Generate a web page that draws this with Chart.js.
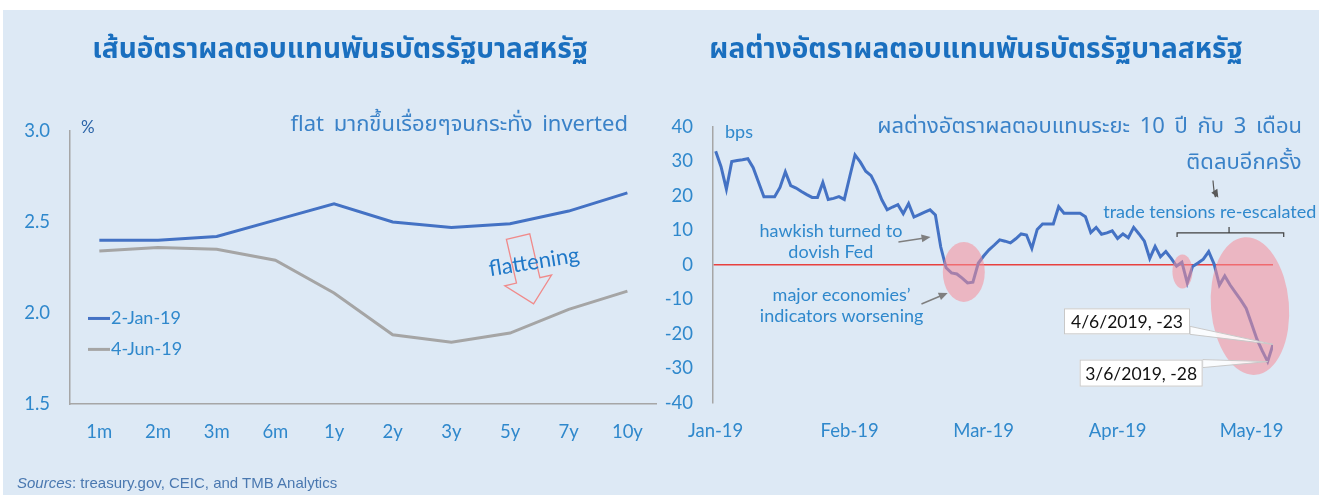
<!DOCTYPE html>
<html>
<head>
<meta charset="utf-8">
<script src="https://cdn.jsdelivr.net/npm/chart.js@4.4.1/dist/chart.umd.min.js"></script>
<style>
html, body { margin: 0; padding: 0; background: #fff; }
#page { position: relative; width: 1319px; height: 495px; overflow: hidden; }
#panel { position: absolute; left: 3px; top: 10px; width: 1316px; height: 485px; background: #dde9f5; }
canvas { position: absolute; top: 0; }
#c1 { left: 0; }
#c2 { left: 660px; }
.t { position: absolute; white-space: nowrap; line-height: 1; font-family: "Noto Sans Thai", "Noto Sans", Lato, sans-serif; }
.c { transform: translate(-50%, -50%); }
.r { transform: translate(-100%, -50%); }
.title { font-size: 28px; font-weight: bold; color: #1a6fbf; }
.sub { font-size: 22px; color: #3a82c8; }
.wide { word-spacing: 4px; }
.src { font-family: "Liberation Sans", Arial, sans-serif; font-size: 15px; color: #4a78b0; transform: translateY(-50%); }
</style>
</head>
<body>
<div id="page">
  <div id="panel"></div>
  <canvas id="c1" width="660" height="495"></canvas>
  <canvas id="c2" width="659" height="495"></canvas>
  <div class="t c title" style="left:340px;top:50px">เส้นอัตราผลตอบแทนพันธบัตรรัฐบาลสหรัฐ</div>
  <div class="t c title" style="left:976px;top:50px">ผลต่างอัตราผลตอบแทนพันธบัตรรัฐบาลสหรัฐ</div>
  <div class="t r sub wide" style="left:628px;top:125px">flat มากขึ้นเรื่อยๆจนกระทั่ง inverted</div>
  <div class="t r sub wide" style="left:1302px;top:127px">ผลต่างอัตราผลตอบแทนระยะ 10 ปี กับ 3 เดือน</div>
  <div class="t c sub" style="left:1244px;top:163px">ติดลบอีกครั้ง</div>
  <div class="t src" style="left:17px;top:482px"><i>Sources</i>: treasury.gov, CEIC, and TMB Analytics</div>
</div>
<script>
// left chart: US treasury yield curve
var tenors = ['1m', '2m', '3m', '6m', '1y', '2y', '3y', '5y', '7y', '10y'];
var yieldJan2 = [2.40, 2.40, 2.42, 2.51, 2.60, 2.50, 2.47, 2.49, 2.56, 2.66];
var yieldJun4 = [2.34, 2.36, 2.35, 2.29, 2.11, 1.88, 1.84, 1.89, 2.02, 2.12];
var curveNames = ['2-Jan-19', '4-Jun-19'];

// right chart: 10y - 3m spread, bps (2 Jan 2019 - 4 Jun 2019)
var spreadBps = [
  33, 28.5, 22, 30, 30.3, 30.5, 30.8, 28.2, 24, 19.8,
  19.8, 19.8, 22.5, 27, 23, 22.3, 21.3, 20.4, 19.6, 19.6,
  23.9, 19, 19.3, 19.8, 19, 25.5, 31.9, 29.8, 27.2, 25.9,
  22.8, 18.9, 16, 16.8, 17.5, 14.9, 17.8, 13.9, 14.6, 15.3,
  16, 14.5, 5.2, -0.8, -2.3, -2.6, -3.8, -5.2, -5.0, 0.5,
  2.6, 4.4, 5.8, 7.3, 6.9, 6.4, 7.6, 9, 8.7, 4.8,
  10.3, 11.9, 11.9, 11.9, 16.9, 15, 15, 15, 15, 14,
  9.4, 10.9, 8.9, 9.3, 9.9, 7.7, 9, 7.9, 10.9, 9.0,
  6.9, 1.9, 5.4, 2.4, 3.9, 1.9, -0.3, 0.8, -5.2, -0.4,
  0.6, 1.7, 3.9, 0.3, -5.8, -3.2, -5.8, -8.0, -10.2, -12.6,
  -17, -21.5, -24.9, -28, -23
];
var monthTicks = [0, 25, 50, 75, 100];
var monthLabels = ['Jan-19', 'Feb-19', 'Mar-19', 'Apr-19', 'May-19'];
var calloutIdx = [104, 103];
var calloutText = ['4/6/2019, -23', '3/6/2019, -28'];

var tickColor = '#2f88cc';
var axisGray = '#a6a6a6';
var labelFont = { family: 'Lato, sans-serif', size: 18.5 };
var noteFont = '18px Lato, sans-serif';

function arrow(ctx, x1, y1, x2, y2, color) {
  var a = Math.atan2(y2 - y1, x2 - x1);
  ctx.strokeStyle = color; ctx.fillStyle = color; ctx.lineWidth = 1.5;
  ctx.beginPath(); ctx.moveTo(x1, y1); ctx.lineTo(x2 - 6 * Math.cos(a), y2 - 6 * Math.sin(a)); ctx.stroke();
  ctx.beginPath();
  ctx.moveTo(x2, y2);
  ctx.lineTo(x2 - 9 * Math.cos(a) + 4 * Math.sin(a), y2 - 9 * Math.sin(a) - 4 * Math.cos(a));
  ctx.lineTo(x2 - 9 * Math.cos(a) - 4 * Math.sin(a), y2 - 9 * Math.sin(a) + 4 * Math.cos(a));
  ctx.closePath(); ctx.fill();
}

var leftDecor = {
  id: 'leftDecor',
  afterDatasetsDraw: function(chart) {
    var ctx = chart.ctx, a = chart.chartArea, x = chart.scales.x, y = chart.scales.y;
    ctx.save();
    // unit
    ctx.fillStyle = '#2b64a8';
    ctx.font = '17px Lato, sans-serif';
    ctx.textBaseline = 'middle';
    ctx.fillText('%', a.left + 11, a.top - 3);
    // legend
    var legendVals = [1.97, 1.80];
    chart.data.datasets.forEach(function(ds, i) {
      var ly = y.getPixelForValue(legendVals[i]);
      ctx.strokeStyle = ds.borderColor; ctx.lineWidth = 3;
      ctx.beginPath(); ctx.moveTo(a.left + 18, ly); ctx.lineTo(a.left + 40, ly); ctx.stroke();
      ctx.fillStyle = tickColor;
      ctx.font = noteFont;
      ctx.textAlign = 'left';
      ctx.fillText(ds.label, a.left + 41, ly);
    });
    // flattening arrow
    var ax = x.getPixelForValue(7) + 8, ay = y.getPixelForValue(2.42);
    ctx.save();
    ctx.translate(ax, ay);
    ctx.rotate(-13 * Math.PI / 180);
    ctx.strokeStyle = '#f08a8a'; ctx.lineWidth = 1.3;
    ctx.beginPath();
    ctx.moveTo(-12, 0); ctx.lineTo(12, 0); ctx.lineTo(12, 45); ctx.lineTo(24, 45);
    ctx.lineTo(0, 69); ctx.lineTo(-24, 45); ctx.lineTo(-12, 45); ctx.closePath();
    ctx.stroke();
    ctx.restore();
    ctx.save();
    ctx.translate(x.getPixelForValue(7) + 24, y.getPixelForValue(2.28));
    ctx.rotate(-9 * Math.PI / 180);
    ctx.fillStyle = '#1f78c8';
    ctx.font = '22px Lato, sans-serif';
    ctx.textAlign = 'center';
    ctx.textBaseline = 'middle';
    ctx.fillText('flattening', 0, 0);
    ctx.restore();
    ctx.restore();
  }
};

new Chart(document.getElementById('c1'), {
  type: 'line',
  data: {
    labels: tenors,
    datasets: [
      { label: curveNames[0], data: yieldJan2, borderColor: '#4472c4', borderWidth: 3, pointRadius: 0, tension: 0 },
      { label: curveNames[1], data: yieldJun4, borderColor: '#a5a5a5', borderWidth: 3, pointRadius: 0, tension: 0 }
    ]
  },
  options: {
    responsive: false, animation: false, devicePixelRatio: 1,
    layout: { padding: { top: 131, right: 2, left: 0, bottom: 0 } },
    plugins: { legend: { display: false }, tooltip: { enabled: false } },
    scales: {
      x: {
        offset: true,
        grid: { display: false, drawTicks: false },
        border: { display: true, color: axisGray, width: 1.5 },
        ticks: { color: tickColor, font: labelFont, padding: 17, maxRotation: 0 },
        afterFit: function(s) { s.height = 91; }
      },
      y: {
        min: 1.5, max: 3.0,
        grid: { display: false, drawTicks: false },
        border: { display: true, color: axisGray, width: 1.5 },
        ticks: { stepSize: 0.5, color: tickColor, font: labelFont, padding: 20,
          callback: function(v) { return v.toFixed(1); } },
        afterFit: function(s) { s.width = 70; }
      }
    }
  },
  plugins: [leftDecor]
});

var rightDecor = {
  id: 'rightDecor',
  afterDatasetsDraw: function(chart) {
    var ctx = chart.ctx, a = chart.chartArea, x = chart.scales.x, y = chart.scales.y;
    ctx.save();
    ctx.fillStyle = tickColor;
    ctx.font = noteFont;
    ctx.textBaseline = 'middle';
    ctx.fillText('bps', a.left + 12, a.top + 5);

    // highlighted inversion zones
    ctx.fillStyle = 'rgba(245, 140, 152, 0.55)';
    [[46.3, -2, 21, 30, 0], [87.1, -1.9, 10, 17, 0], [99.7, -11.9, 39, 69, -0.08]].forEach(function(e) {
      ctx.beginPath();
      ctx.ellipse(x.getPixelForValue(e[0]), y.getPixelForValue(e[1]), e[2], e[3], e[4], 0, Math.PI * 2);
      ctx.fill();
    });

    // texts
    ctx.fillStyle = tickColor;
    ctx.textAlign = 'center';
    ctx.font = noteFont;
    var tx = x.getPixelForValue(21.5);
    ctx.fillText('hawkish turned to', tx, y.getPixelForValue(9.9));
    ctx.fillText('dovish Fed', tx, y.getPixelForValue(3.8));
    var mx = x.getPixelForValue(23.5);
    ctx.fillText('major economies\u2019', mx, y.getPixelForValue(-8.7));
    ctx.fillText('indicators worsening', mx, y.getPixelForValue(-14.8));
    ctx.fillText('trade tensions re-escalated', x.getPixelForValue(92.2), y.getPixelForValue(15.4));

    // arrows
    arrow(ctx, x.getPixelForValue(34.1), y.getPixelForValue(6.7), x.getPixelForValue(40.1), y.getPixelForValue(8.1), '#7f7f7f');
    arrow(ctx, x.getPixelForValue(38.4), y.getPixelForValue(-11.3), x.getPixelForValue(43.3), y.getPixelForValue(-8.1), '#7f7f7f');

    // curved arrow
    ctx.strokeStyle = '#595959'; ctx.fillStyle = '#595959'; ctx.lineWidth = 1.2;
    var c0x = x.getPixelForValue(92.8), c0y = y.getPixelForValue(24.5);
    var c1x = x.getPixelForValue(93.8), c1y = y.getPixelForValue(19.5);
    ctx.beginPath(); ctx.moveTo(c0x, c0y);
    ctx.quadraticCurveTo(c0x + 2, c1y + 6, c1x - 2, c1y - 4); ctx.stroke();
    ctx.beginPath(); ctx.moveTo(c1x, c1y); ctx.lineTo(c1x - 7, c1y - 5); ctx.lineTo(c1x - 1, c1y - 9); ctx.closePath(); ctx.fill();

    // bracket
    var bx1 = x.getPixelForValue(86.1), bx2 = x.getPixelForValue(106), bmx = x.getPixelForValue(95.8);
    var by = y.getPixelForValue(9.3);
    ctx.strokeStyle = '#404040'; ctx.lineWidth = 1.2;
    ctx.beginPath();
    ctx.moveTo(bx1, by + 4); ctx.lineTo(bx1, by); ctx.lineTo(bx2, by); ctx.lineTo(bx2, by + 4);
    ctx.moveTo(bmx, by); ctx.lineTo(bmx, by - 6);
    ctx.stroke();

    // callouts
    var ds = chart.data.datasets[0].data;
    var boxes = [[-83, -23, 126, 26], [-65, 11.5, 123, 27]];
    calloutIdx.forEach(function(idx, i) {
      var px = x.getPixelForValue(idx), py = y.getPixelForValue(ds[idx].y);
      var b = boxes[i];
      var right = px + b[0], cy = py + b[1], left = right - b[2], top = cy - b[3] / 2, bot = cy + b[3] / 2;
      var ay = Math.min(Math.max(py, top + 4), bot - 4);
      ctx.fillStyle = 'rgba(255,255,255,0.85)';
      ctx.strokeStyle = '#c8c8c8'; ctx.lineWidth = 1;
      ctx.beginPath(); ctx.moveTo(right, ay - 4); ctx.lineTo(px, py); ctx.lineTo(right, ay + 4); ctx.closePath();
      ctx.fill(); ctx.stroke();
      ctx.fillStyle = '#ffffff';
      ctx.fillRect(left, top, b[2], b[3]);
      ctx.strokeRect(left + 0.5, top + 0.5, b[2] - 1, b[3] - 1);
      ctx.fillStyle = '#111111';
      ctx.font = '17.5px Lato, sans-serif';
      ctx.textAlign = 'center';
      ctx.fillText(calloutText[i], (left + right) / 2, cy + 1);
    });
    ctx.restore();
  }
};

new Chart(document.getElementById('c2'), {
  type: 'line',
  data: {
    datasets: [{
      label: 'spread',
      data: spreadBps.map(function(v, i) { return { x: i, y: v }; }),
      borderColor: '#4472c4', borderWidth: 3, pointRadius: 0, tension: 0
    }]
  },
  options: {
    responsive: false, animation: false, devicePixelRatio: 1,
    layout: { padding: { top: 127, right: 46, left: 0, bottom: 0 } },
    plugins: { legend: { display: false }, tooltip: { enabled: false } },
    scales: {
      x: {
        type: 'linear', min: -0.5, max: spreadBps.length - 1,
        grid: { display: false, drawTicks: false },
        border: { display: false },
        afterBuildTicks: function(s) { s.ticks = monthTicks.map(function(v) { return { value: v }; }); },
        ticks: { color: tickColor, font: labelFont, padding: 17, maxRotation: 0, autoSkip: false,
          callback: function(v) { var k = monthTicks.indexOf(v); return k < 0 ? '' : monthLabels[k]; } },
        afterFit: function(s) { s.height = 92; }
      },
      y: {
        min: -40, max: 40,
        grid: { display: true, drawTicks: false, lineWidth: 1.5,
          color: function(c) { return c.tick && c.tick.value === 0 ? '#e8413f' : 'rgba(0,0,0,0)'; } },
        border: { display: true, color: axisGray, width: 1.5 },
        ticks: { stepSize: 10, color: tickColor, font: labelFont, padding: 20 },
        afterFit: function(s) { s.width = 53; }
      }
    }
  },
  plugins: [rightDecor]
});
</script>
</body>
</html>
